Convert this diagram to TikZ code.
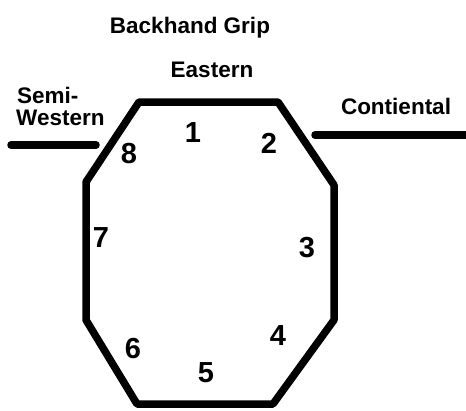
\documentclass[tikz,border=0pt]{standalone}
\usepackage{fontspec}
\setmainfont{Liberation Sans}
\begin{document}
\begin{tikzpicture}[x=1pt,y=-1pt,
  lbl/.style={font=\fontsize{22.5}{24}\selectfont\bfseries, inner sep=0pt, anchor=base},
  num/.style={font=\fontsize{29}{30}\selectfont\bfseries, inner sep=0pt, anchor=base},
  frame/.style={line width=7.5pt, line join=round},
  bar/.style={line width=7.5pt, line cap=round}]
\useasboundingbox (0,0) rectangle (466,410);
% octagon vertices
\coordinate (p1) at (139,102);
\coordinate (p2) at (278,102);
\coordinate (p3) at (334,185);
\coordinate (p4) at (334,320);
\coordinate (p5) at (273,404);
\coordinate (p6) at (137,404);
\coordinate (p7) at (86,320);
\coordinate (p8) at (86,182);
\draw[frame] (p1) -- (p2) -- (p3) -- (p4) -- (p5) -- (p6) -- (p7) -- (p8) -- cycle;
% bars
\coordinate (swa) at (11,145);
\coordinate (swb) at (96,145);
\coordinate (cta) at (315,135);
\coordinate (ctb) at (472,135);
\draw[bar] (swa) -- (swb);
\draw[bar] (cta) -- (ctb);
% labels
\node[lbl] (title) at (190,33) {Backhand Grip};
\node[lbl] (eastern) at (212,77) {Eastern};
\node[lbl, anchor=base west] (semi) at (17,103) {Semi-};
\node[lbl, anchor=base west] (western) at (16,125) {Western};
\node[lbl] (cont) at (396,114) {Contiental};
% numbers
\node[num] (n1) at (193,142) {1};
\node[num] (n2) at (269,153) {2};
\node[num] (n3) at (307,257) {3};
\node[num] (n4) at (278,345) {4};
\node[num] (n5) at (206,382) {5};
\node[num] (n6) at (133,358) {6};
\node[num] (n7) at (101,247) {7};
\node[num] (n8) at (129,163) {8};
\end{tikzpicture}
\end{document}
